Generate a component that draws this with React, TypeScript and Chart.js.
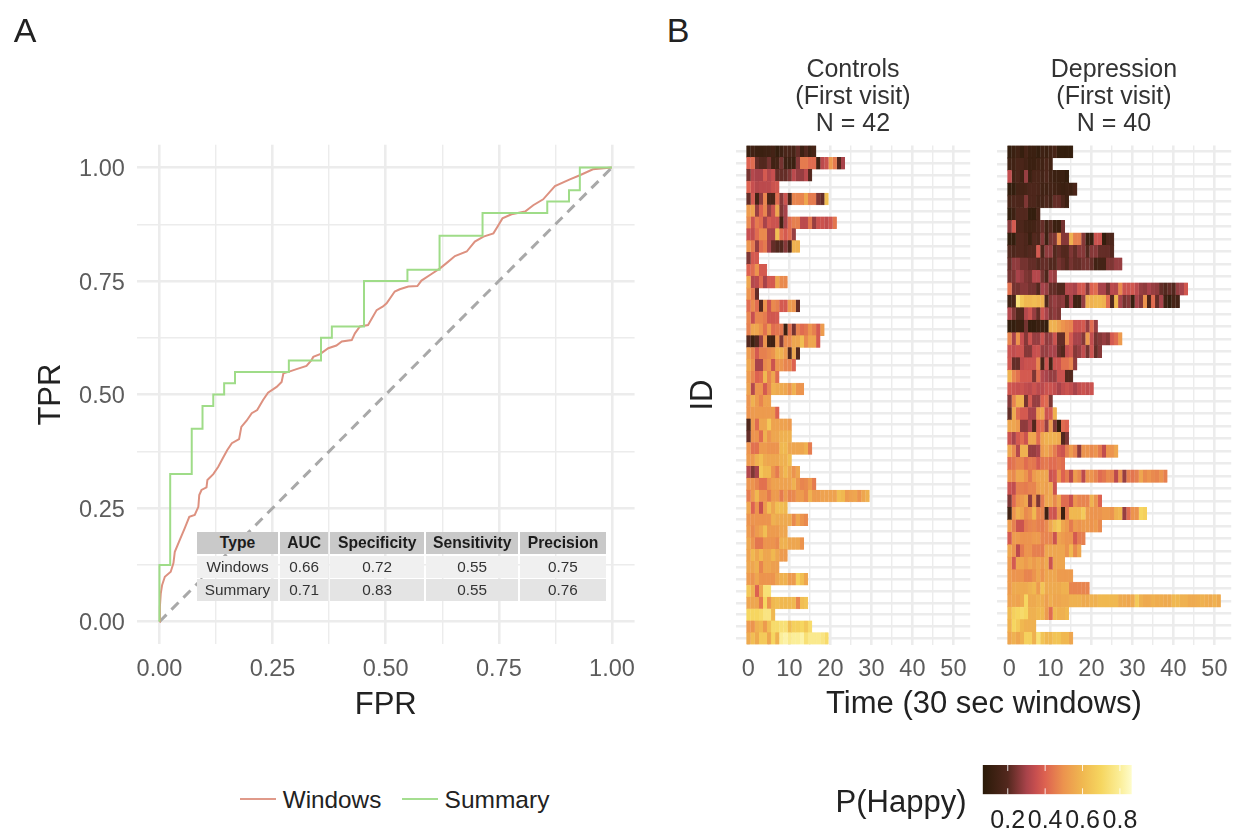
import React, { useEffect, useRef } from "react";
import { Chart, registerables } from "chart.js";

Chart.register(...registerables);

const FONT = '"Liberation Sans", Arial, sans-serif';

const rocTicks = [0, 0.25, 0.5, 0.75, 1];
const rocGridTicks = [0, 0.125, 0.25, 0.375, 0.5, 0.625, 0.75, 0.875, 1];
const heatGridTicks = [0, 5, 10, 15, 20, 25, 30, 35, 40, 45, 50];
const diagonal = [{ x: 0, y: 0 }, { x: 1, y: 1 }];

const summaryFpr = [0, 0, 0.0238, 0.0238, 0.0714, 0.0714, 0.0952, 0.0952, 0.119, 0.119, 0.143, 0.143, 0.167, 0.167, 0.286, 0.286, 0.357, 0.357, 0.381, 0.381, 0.452, 0.452, 0.548, 0.548, 0.619, 0.619, 0.714, 0.714, 0.857, 0.857, 0.905, 0.905, 0.929, 0.929, 1];
const summaryTpr = [0, 0.125, 0.125, 0.325, 0.325, 0.425, 0.425, 0.475, 0.475, 0.5, 0.5, 0.525, 0.525, 0.55, 0.55, 0.575, 0.575, 0.625, 0.625, 0.65, 0.65, 0.75, 0.75, 0.775, 0.775, 0.85, 0.85, 0.9, 0.9, 0.925, 0.925, 0.95, 0.95, 1, 1];

const windowsFpr = [0, 0.001, 0.003, 0.006, 0.012, 0.025, 0.031, 0.034, 0.045, 0.056, 0.066, 0.078, 0.086, 0.088, 0.093, 0.104, 0.106, 0.119, 0.13, 0.14, 0.15, 0.16, 0.176, 0.181, 0.193, 0.204, 0.216, 0.229, 0.24, 0.259, 0.27, 0.274, 0.285, 0.303, 0.325, 0.336, 0.34, 0.355, 0.373, 0.391, 0.403, 0.425, 0.432, 0.443, 0.461, 0.48, 0.494, 0.502, 0.52, 0.531, 0.55, 0.57, 0.579, 0.602, 0.62, 0.635, 0.653, 0.679, 0.697, 0.716, 0.738, 0.749, 0.758, 0.778, 0.808, 0.826, 0.848, 0.874, 0.907, 0.929, 0.958, 1];
const windowsTpr = [0, 0.033, 0.0625, 0.081, 0.099, 0.11, 0.129, 0.154, 0.18, 0.206, 0.231, 0.235, 0.253, 0.279, 0.29, 0.296, 0.312, 0.325, 0.341, 0.36, 0.378, 0.393, 0.402, 0.429, 0.443, 0.459, 0.466, 0.488, 0.504, 0.517, 0.528, 0.547, 0.55, 0.556, 0.563, 0.576, 0.583, 0.589, 0.602, 0.608, 0.617, 0.62, 0.635, 0.65, 0.653, 0.686, 0.694, 0.701, 0.727, 0.732, 0.738, 0.739, 0.751, 0.766, 0.778, 0.79, 0.805, 0.815, 0.837, 0.848, 0.855, 0.873, 0.888, 0.897, 0.903, 0.917, 0.93, 0.959, 0.974, 0.983, 0.996, 1];

const tableHeader = ["Type", "AUC", "Specificity", "Sensitivity", "Precision"];
const tableWindows = ["Windows", "0.66", "0.72", "0.55", "0.75"];
const tableSummary = ["Summary", "0.71", "0.83", "0.55", "0.76"];

const controlsP = [
  [.12,.14,.12,.12,.13,.13,.15,.1,.13,.17,.17,.16,.22,.13,.2,.13,.16],
  [.4,.42,.22,.2,.2,.24,.14,.15,.24,.13,.13,.12,.26,.45,.45,.42,.42,.14,.33,.36,.52,.45,.2,.3],
  [.24,.32,.3,.3,.38,.32,.35,.22,.22,.22,.25,.33,.28,.28,.33,.2],
  [.4,.35,.32,.33,.33,.33,.36,.37],
  [.22,.38,.15,.27,.47,.17,.17,.42,.26,.36,.18,.47,.47,.47,.55,.45,.45,.25,.22,.62],
  [.52,.54,.28,.4,.47,.28,.36,.55,.25,.3],
  [.48,.36,.45,.42,.3,.38,.36,.36,.15,.3,.42,.46,.46,.33,.33,.44,.28,.36,.36,.34,.37,.44],
  [.35,.34,.42,.48,.48,.3,.3,.62,.42,.38,.42,.28],
  [.5,.45,.28,.42,.45,.3,.22,.2,.2,.26,.18,.58,.58],
  [.25,.38,.38],
  [.4,.42,.5,.38,.38],
  [.55,.32,.33,.42,.3,.38,.38,.55,.48,.48],
  [.5,.45,.22],
  [.42,.48,.42,.2,.5,.36,.48,.46,.38,.38,.52,.5,.22],
  [.47,.35,.47,.47,.45,.37,.37,.38],
  [.46,.55,.55,.5,.43,.52,.42,.44,.44,.12,.43,.24,.46,.42,.44,.5,.46,.38,.52],
  [.2,.12,.2,.28,.5,.14,.14,.5,.25,.48,.48,.55,.55,.62,.48,.55,.55,.38],
  [.52,.47,.38,.46,.46,.48,.5,.58,.58,.52,.2,.55,.2],
  [.55,.5,.3,.3,.48,.5,.36,.5,.5,.47,.47,.4],
  [.52,.47,.4,.42,.6,.47,.55,.42],
  [.54,.32,.5,.5,.38,.47,.58,.56,.56,.55,.5,.58,.5,.5],
  [.5,.58,.52,.47,.54,.54],
  [.5,.52,.52,.52,.52,.52,.52,.4],
  [.18,.52,.42,.55,.55,.65,.54,.54,.54,.54,.52],
  [.22,.5,.5,.42,.58,.5,.55,.55,.58,.58,.58],
  [.5,.43,.43,.52,.52,.5,.5,.5,.6,.6,.55,.55,.55,.55,.58,.45],
  [.52,.52,.58,.62,.56,.55,.55,.55,.58,.58,.62],
  [.32,.25,.3,.65,.6,.6,.5,.45,.55,.6,.55,.5,.55],
  [.5,.5,.47,.43,.43,.5,.54,.54,.54,.54,.54,.58,.5,.47,.48,.52,.45],
  [.45,.52,.6,.5,.5,.45,.52,.52,.45,.52,.47,.48,.52,.52,.48,.58,.52,.52,.54,.54,.54,.54,.62,.6,.52,.54,.55,.5,.55,.58],
  [.55,.4,.5,.35,.52,.62,.55,.62,.62,.6],
  [.5,.5,.5,.5,.5,.5,.58,.56,.56,.56,.56,.48,.55,.5,.48],
  [.52,.48,.52,.55,.62,.52,.52,.52,.55,.55],
  [.55,.5,.44,.44,.5,.5,.5,.48,.58,.58,.55,.55,.55,.5],
  [.54,.6,.55,.6,.55,.55,.6,.55,.52,.52],
  [.55,.55,.58,.47,.55,.55,.53,.53],
  [.52,.5,.55,.5,.5,.5,.5,.55,.58,.58,.52,.52,.68,.62,.55],
  [.65,.58,.4,.55,.74,.74],
  [.55,.55,.55,.45,.7,.5,.6,.62,.6,.6,.6,.6,.47,.62,.64],
  [.7,.7,.7,.72,.76,.76,.6],
  [.52,.5,.58,.6,.52,.62,.72,.72,.74,.74,.62,.68,.68,.7,.65,.72],
  [.56,.62,.56,.66,.66,.55,.7,.58,.8,.82,.78,.8,.8,.82,.74,.78,.78,.78,.76,.72],
];

const depressionP = [
  [.1,.12,.14,.11,.16,.12,.12,.1,.13,.12,.14,.16,.1,.1,.1,.1],
  [.14,.14,.17,.17,.15,.12,.12,.14,.14,.17,.14],
  [.34,.15,.18,.14,.28,.12,.17,.17,.15,.18,.14,.12,.12,.12,.1],
  [.1,.1,.15,.15,.16,.18,.18,.17,.14,.14,.15,.14,.13,.12,.13,.13,.17],
  [.16,.18,.18,.18,.25,.18,.18,.15,.15,.18,.15,.22,.22,.18,.13],
  [.1,.13,.2,.2,.2,.1,.1,.17],
  [.26,.38,.18,.18,.15,.14,.15,.18,.22,.14,.2,.12,.12,.24],
  [.1,.1,.2,.2,.18,.12,.2,.18,.26,.13,.24,.25,.5,.26,.26,.58,.46,.46,.26,.12,.12,.36,.36,.1,.18,.18],
  [.2,.18,.2,.2,.18,.2,.2,.38,.18,.27,.27,.2,.22,.2,.2,.25,.22,.26,.26,.2,.26,.26,.22,.22,.22,.2],
  [.22,.27,.27,.24,.24,.22,.22,.2,.22,.22,.2,.2,.24,.22,.2,.24,.22,.22,.24,.24,.22,.14,.15,.15,.25,.25,.28,.28],
  [.24,.25,.3,.28,.25,.24,.32,.32,.24,.18,.3,.28],
  [.43,.24,.24,.26,.26,.24,.24,.2,.3,.28,.22,.22,.2,.2,.32,.32,.3,.37,.38,.26,.4,.42,.3,.3,.24,.33,.32,.48,.36,.36,.37,.33,.28,.27,.3,.28,.27,.22,.2,.22,.2,.28,.3,.37],
  [.14,.16,.75,.65,.6,.6,.62,.6,.58,.18,.26,.28,.26,.27,.18,.3,.14,.14,.28,.58,.58,.6,.6,.58,.42,.2,.6,.3,.24,.26,.12,.3,.26,.5,.18,.42,.22,.3,.14,.1,.16,.15],
  [.32,.25,.2,.2,.32,.36,.28,.22,.36,.3,.25,.27,.25],
  [.1,.1,.12,.12,.24,.1,.1,.12,.12,.1,.58,.58,.54,.5,.48,.47,.36,.36,.38,.28,.42,.28],
  [.47,.3,.5,.35,.26,.36,.28,.28,.36,.27,.28,.36,.22,.22,.48,.38,.3,.3,.26,.52,.34,.24,.26,.28,.26,.38,.42,.52],
  [.36,.34,.36,.36,.26,.26,.35,.36,.28,.28,.3,.3,.22,.2,.34,.37,.26,.28,.34,.24,.36,.22,.26],
  [.37,.22,.22,.34,.36,.36,.36,.47,.17,.36,.15,.36,.36,.43,.43,.47,.27],
  [.58,.47,.43,.38,.38,.38,.25,.42,.32,.3,.28,.28,.36,.36,.2,.2],
  [.37,.36,.35,.36,.34,.33,.36,.33,.33,.36,.36,.34,.3,.34,.36,.34,.3,.34,.36,.34,.36],
  [.26,.47,.58,.58,.24,.38,.28,.28,.4,.42,.25],
  [.22,.56,.42,.38,.38,.3,.3,.52,.55,.36,.38,.58],
  [.55,.55,.52,.27,.27,.32,.2,.4,.42,.28,.52,.25,.1,.42,.4],
  [.36,.3,.38,.42,.36,.55,.55,.42,.55,.58,.58,.58,.56,.2,.25],
  [.55,.48,.32,.58,.58,.28,.28,.3,.52,.55,.5,.45,.38,.36,.46,.52,.47,.27,.5,.5,.48,.5,.45,.34,.5,.5,.55],
  [.42,.44,.47,.47,.42,.45,.44,.38,.44,.45,.42,.42,.44,.42],
  [.5,.48,.55,.55,.5,.44,.52,.55,.55,.55,.36,.38,.5,.4,.45,.33,.52,.48,.33,.5,.5,.47,.42,.44,.48,.47,.33,.5,.28,.46,.44,.46,.55,.48,.5,.48,.47,.5,.46],
  [.36,.34,.46,.46,.45,.47,.47,.53,.55,.53,.56,.36],
  [.25,.42,.5,.52,.55,.27,.5,.25,.45,.55,.55,.48,.55,.42,.42,.35,.5,.47,.47,.47,.58,.5,.4],
  [.14,.5,.58,.55,.48,.5,.6,.47,.47,.13,.38,.36,.5,.12,.45,.6,.6,.6,.66,.52,.5,.5,.5,.52,.52,.5,.58,.6,.28,.42,.5,.5,.7,.68],
  [.52,.46,.36,.36,.45,.47,.48,.46,.45,.48,.55,.62,.66,.55,.52,.45,.52,.5,.52,.52,.5,.52,.48],
  [.38,.52,.52,.5,.5,.5,.52,.52,.47,.47,.47,.36,.54,.52,.5,.5,.38,.45,.46],
  [.55,.5,.33,.45,.5,.5,.46,.46,.45,.55,.55,.55,.55,.55,.5,.6,.48,.55],
  [.52,.38,.55,.55,.52,.55,.52,.55,.52,.56,.36,.55,.55,.55],
  [.52,.5,.5,.5,.47,.47,.5,.55,.5,.55,.55,.55,.52,.52,.52,.52],
  [.52,.56,.56,.56,.56,.58,.6,.52,.64,.56,.56,.56,.56,.58,.58,.47,.47,.47,.47,.47],
  [.54,.55,.54,.56,.7,.56,.56,.58,.57,.53,.57,.55,.55,.56,.56,.58,.58,.58,.56,.56,.58,.58,.6,.6,.6,.6,.6,.56,.56,.55,.56,.66,.58,.56,.56,.58,.57,.57,.56,.56,.6,.6,.58,.58,.56,.56,.57,.58,.57,.56,.58,.56],
  [.6,.68,.7,.72,.7,.58,.58,.6,.6,.52,.42,.6,.58,.58,.6],
  [.58,.7,.66,.6,.58,.58,.58],
  [.55,.58,.55,.58,.68,.68,.58,.74,.64,.6,.6,.64,.64,.6,.6,.55],
];

const colorbarTicks = [0.2, 0.4, 0.6, 0.8];
const colorbarRange = [0.066, 0.863];
const stopValues = [0.066, 0.2, 0.3, 0.35, 0.4, 0.5, 0.6, 0.7, 0.8, 0.863];
const stopColors = [
  [42, 26, 8], [83, 40, 30], [168, 67, 74], [199, 79, 79], [221, 98, 80],
  [236, 148, 78], [240, 184, 80], [246, 214, 96], [251, 238, 152], [254, 252, 203],
];

function colorOf(p: number) {
  let i = 0;
  while (i < stopValues.length - 2 && p > stopValues[i + 1]) i++;
  const t = Math.min(1, Math.max(0, (p - stopValues[i]) / (stopValues[i + 1] - stopValues[i])));
  const a = stopColors[i], b = stopColors[i + 1];
  return `rgb(${a.map((v, k) => Math.round(v + (b[k] - v) * t)).join(",")})`;
}

const GRID = "#ececec";
const TICK = "#5c5c5c";
const TEXT = "#222222";
const tickFont = { family: FONT, size: 23.5 };
const titleFont = { family: FONT, size: 31 };

const zeroPadding = (s: any) => {
  s.paddingLeft = 0; s.paddingRight = 0; s.paddingTop = 0; s.paddingBottom = 0;
};

function RocChart() {
  const ref = useRef<HTMLCanvasElement>(null);
  useEffect(() => {
    const tickBuilder = (s: any) => { s.ticks = rocGridTicks.map((value) => ({ value })); };
    const chart = new Chart(ref.current!, {
      type: "line",
      data: {
        datasets: [
          { label: "Reference", data: diagonal, borderColor: "#a9a9a9", borderWidth: 3, borderDash: [10, 7], pointRadius: 0, order: 3 },
          { label: "Windows", data: windowsFpr.map((x, i) => ({ x, y: windowsTpr[i] })), borderColor: "#dd9180", borderWidth: 2, pointRadius: 0, order: 2 },
          { label: "Summary", data: summaryFpr.map((x, i) => ({ x, y: summaryTpr[i] })), borderColor: "#9fdc88", borderWidth: 2, pointRadius: 0, order: 1 },
        ],
      },
      options: {
        animation: false, responsive: false,
        layout: { padding: { top: 144.8, right: 5.4, left: 0, bottom: 0 } },
        plugins: { legend: { display: false }, tooltip: { enabled: false } },
        scales: {
          x: {
            type: "linear", min: -0.05, max: 1.05, bounds: "data",
            afterBuildTicks: tickBuilder,
            afterFit: (s: any) => { s.height = 724 - 644.4; zeroPadding(s); },
            grid: { color: GRID, lineWidth: (c: any) => (rocTicks.includes(c.tick?.value) ? 2.6 : 1.4), drawTicks: false },
            border: { display: false },
            ticks: { autoSkip: false, maxRotation: 0, padding: 11, color: TICK, font: tickFont,
              callback: (v: any) => (rocTicks.includes(v) ? Number(v).toFixed(2) : "") },
            title: { display: true, text: "FPR", color: TEXT, font: titleFont, padding: 0 },
          },
          y: {
            type: "linear", min: -0.05, max: 1.05, bounds: "data",
            afterBuildTicks: tickBuilder,
            afterFit: (s: any) => {
              s.width = 136.8; zeroPadding(s);
              const base = s.constructor.prototype._computeLabelItems;
              s._computeLabelItems = function (area: any) {
                return base.call(this, area).map((it: any) => ({ ...it, textOffset: it.textOffset + 2 }));
              };
            },
            grid: { color: GRID, lineWidth: (c: any) => (rocTicks.includes(c.tick?.value) ? 2.6 : 1.4), drawTicks: false },
            border: { display: false },
            ticks: { autoSkip: false, padding: 12, color: TICK, font: tickFont,
              callback: (v: any) => (rocTicks.includes(v) ? Number(v).toFixed(2) : "") },
            title: { display: true, text: "TPR", color: TEXT, font: titleFont, padding: { top: 33, bottom: 0 } },
          },
        },
      } as any,
    });
    return () => chart.destroy();
  }, []);
  return <canvas ref={ref} width={640} height={724} style={{ position: "absolute", left: 0, top: 0 }} />;
}

function HeatChart({ rows, title, left, width, areaLeft, areaRight, yTitle }: any) {
  const ref = useRef<HTMLCanvasElement>(null);
  useEffect(() => {
    const maxLen = Math.max(...rows.map((r: number[]) => r.length));
    const datasets = Array.from({ length: maxLen }, (_, j) => ({
      label: `w${j}`,
      data: rows.map((r: number[]) => (j < r.length ? [j - 0.5, j + 0.5] : null)),
      backgroundColor: rows.map((r: number[]) => (j < r.length ? colorOf(r[j]) : "transparent")),
      borderColor: rows.map((r: number[]) => (j < r.length ? colorOf(r[j]) : "transparent")),
      borderWidth: 0.4,
      barPercentage: 1,
      categoryPercentage: 1,
      grouped: false,
    }));
    const chart = new Chart(ref.current!, {
      type: "bar",
      data: { labels: rows.map((_: any, i: number) => `${i + 1}`), datasets },
      options: {
        indexAxis: "y", animation: false, responsive: false,
        layout: { padding: { left: 0, top: 0, bottom: 0, right: left + width - areaRight } },
        plugins: {
          legend: { display: false }, tooltip: { enabled: false },
          title: { display: true, fullSize: false, text: title, color: "#333333", font: { family: FONT, size: 25, lineHeight: 1.08, weight: "normal" }, padding: { top: 1, bottom: 7.5 } },
        },
        scales: {
          x: {
            type: "linear", min: -3.1, max: 54.1, bounds: "data",
            afterBuildTicks: (s: any) => { s.ticks = heatGridTicks.map((value) => ({ value })); },
            afterFit: (s: any) => { s.height = 700 - 644.5; zeroPadding(s); },
            grid: { color: GRID, lineWidth: (c: any) => (c.tick?.value % 10 === 0 ? 2.6 : 1.4), drawTicks: false },
            border: { display: false },
            ticks: { autoSkip: false, maxRotation: 0, padding: 11, color: TICK, font: tickFont,
              callback: (v: any) => (v % 10 === 0 ? `${v}` : "") },
          },
          y: {
            type: "category", offset: true,
            afterFit: (s: any) => { s.width = areaLeft - left; zeroPadding(s); },
            grid: { color: GRID, lineWidth: 2.6, drawTicks: false, offset: false },
            border: { display: false },
            ticks: { display: false, autoSkip: false },
            title: yTitle ? { display: true, text: yTitle, color: TEXT, font: titleFont, padding: { top: 5, bottom: 0 } } : { display: false },
          },
        },
      } as any,
    });
    return () => chart.destroy();
  }, []);
  return <canvas ref={ref} width={width} height={644} style={{ position: "absolute", left, top: 56 }} />;
}

const whiteTicks = {
  id: "whiteTicks",
  afterDatasetsDraw(chart: any) {
    const { ctx, chartArea, scales } = chart;
    ctx.save();
    ctx.strokeStyle = "rgba(255,255,255,0.85)";
    ctx.lineWidth = 1;
    colorbarTicks.forEach((v) => {
      const x = scales.x.getPixelForValue(v);
      [[chartArea.top, chartArea.top + 6], [chartArea.bottom - 6, chartArea.bottom]].forEach(([a, b]) => {
        ctx.beginPath(); ctx.moveTo(x, a); ctx.lineTo(x, b); ctx.stroke();
      });
    });
    ctx.restore();
  },
};

function Colorbar() {
  const ref = useRef<HTMLCanvasElement>(null);
  useEffect(() => {
    const chart = new Chart(ref.current!, {
      type: "bar",
      data: {
        labels: ["P(Happy)"],
        datasets: [{
          label: "P(Happy)",
          data: [colorbarRange],
          barPercentage: 1, categoryPercentage: 1, borderWidth: 0,
          backgroundColor: (c: any) => {
            const { ctx, chartArea } = c.chart;
            if (!chartArea) return "#000";
            const g = ctx.createLinearGradient(chartArea.left, 0, chartArea.right, 0);
            stopValues.forEach((v, i) => {
              g.addColorStop((v - colorbarRange[0]) / (colorbarRange[1] - colorbarRange[0]), `rgb(${stopColors[i].join(",")})`);
            });
            return g;
          },
        }],
      },
      options: {
        indexAxis: "y", animation: false, responsive: false,
        layout: { padding: { left: 22.7, right: 28.3, top: 5, bottom: 0 } },
        plugins: { legend: { display: false }, tooltip: { enabled: false } },
        scales: {
          x: {
            type: "linear", min: colorbarRange[0], max: colorbarRange[1], bounds: "data",
            afterFit: (s: any) => { s.height = 73 - 34.3; zeroPadding(s); },
            grid: { display: false, drawTicks: false }, border: { display: false },
            afterBuildTicks: (s: any) => { s.ticks = colorbarTicks.map((value) => ({ value })); },
            ticks: { autoSkip: false, maxRotation: 0, padding: 12, color: TEXT, font: { family: FONT, size: 25 }, callback: (v: any) => Number(v).toFixed(1) },
          },
          y: { display: false },
        },
      } as any,
      plugins: [whiteTicks],
    });
    return () => chart.destroy();
  }, []);
  return <canvas ref={ref} width={200} height={73} style={{ position: "absolute", left: 960, top: 760 }} />;
}

const colEdges = [196.7, 280, 330, 426, 520, 607.6];
const rowEdges = [532.3, 554.3, 555.9, 577.7, 579.4, 601];

function MetricsTable() {
  const rows = [
    { cells: tableHeader, top: rowEdges[0], bottom: rowEdges[1], bg: "#c9c9c9", weight: 700, size: 15.7 },
    { cells: tableWindows, top: rowEdges[2], bottom: rowEdges[3], bg: "#f0f0f0", weight: 400, size: 15.3 },
    { cells: tableSummary, top: rowEdges[4], bottom: rowEdges[5], bg: "#e4e4e4", weight: 400, size: 15.3 },
  ];
  return (
    <>
      {rows.map((r, ri) =>
        r.cells.map((c, ci) => (
          <div key={`${ri}-${ci}`} style={{
            position: "absolute", left: colEdges[ci], top: r.top,
            width: colEdges[ci + 1] - colEdges[ci] - 1.6, height: r.bottom - r.top,
            background: r.bg, color: ri === 0 ? "#1c1c1c" : "#333333",
            font: `${r.weight} ${r.size}px ${FONT}`, lineHeight: `${r.bottom - r.top}px`, textAlign: "center",
          }}>{c}</div>
        ))
      )}
    </>
  );
}

function Label({ text, x, y, size, color = TEXT }: any) {
  return (
    <div style={{ position: "absolute", left: x, top: y, transform: "translate(-50%,-50%)", font: `${size}px ${FONT}`, color, whiteSpace: "nowrap" }}>{text}</div>
  );
}

function Swatch({ x, color }: any) {
  return <div style={{ position: "absolute", left: x, top: 798, width: 36, height: 2, background: color }} />;
}

export default function App() {
  return (
    <div style={{ position: "absolute", left: 0, top: 0, width: 1239, height: 833, background: "#fff", overflow: "hidden" }}>
      <RocChart />
      <HeatChart rows={controlsP} title={["Controls", "(First visit)", "N = 42"]} left={680} width={295} areaLeft={735.7} areaRight={970.2} yTitle="ID" />
      <HeatChart rows={depressionP} title={["Depression", "(First visit)", "N = 40"]} left={980} width={259} areaLeft={996.7} areaRight={1231.2} />
      <Colorbar />
      <MetricsTable />
      <Label text="A" x={25} y={30} size={34} />
      <Label text="B" x={678} y={30} size={34} />
      <Label text="Time (30 sec windows)" x={984} y={703} size={31} />
      <Label text="P(Happy)" x={901} y={802} size={31} />
      <Swatch x={240} color="#e09a8a" />
      <Label text="Windows" x={332} y={800} size={24.3} />
      <Swatch x={402} color="#a5de90" />
      <Label text="Summary" x={497} y={800} size={24.5} />
    </div>
  );
}
